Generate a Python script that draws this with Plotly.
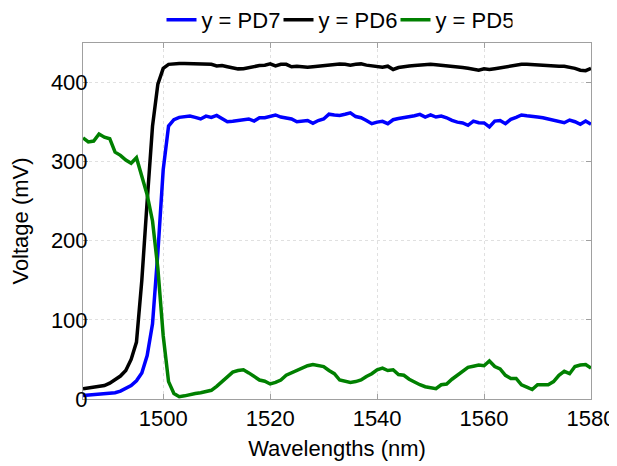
import plotly.graph_objects as go

wavelength = list(range(1485, 1581))

pd7 = [4.5, 5, 5.5, 6, 6.5, 7, 8, 10, 13, 17, 23, 33, 55, 95, 185, 290, 345, 353, 356, 357,
       357.6, 356, 354, 357.6, 356, 358.5, 354, 350.5, 351, 352, 353, 354, 351.3, 355.5, 355.5, 357,
       359, 356.4, 355, 354, 350.5, 351, 352, 348.4, 352, 354, 360, 359, 358.5, 360,
       361.8, 357, 355.5, 352, 348, 350, 351, 348, 353, 354.5, 355.5, 356, 358, 359.8, 356.4, 359,
       356.4, 357.6, 355.5, 352.2, 350, 349, 346, 351.3, 349.2, 349, 344, 351.3, 352, 348,
       353.5, 356, 359, 358, 357.6, 356.4, 355.5, 354, 352, 351.3, 349.2, 352.6, 350.5, 347.2, 351.3, 347.2]

pd6 = [13, 14, 15, 16, 17, 20, 24, 29, 36, 50, 72, 150, 250, 345, 398, 418, 423, 424, 424, 424,
       424, 424, 424, 424, 423, 421, 421.5, 420, 418.5, 417.3, 417.5, 419, 420.7, 421.5, 422, 423.6,
       421, 423, 423, 420, 420.7, 420, 419.4, 420, 420.7, 421, 421.5, 422.5, 423.6, 423,
       422, 423, 423.6, 422, 421, 420.5, 419.4, 420.7, 416.5, 419, 420.5, 421, 421.5, 422, 423, 423,
       422.5, 422, 421.5, 420.7, 420, 419, 418, 416.5, 415.6, 417.3, 416.5, 417.5, 418.5, 420,
       421.5, 422, 423, 423, 422.5, 421.5, 421, 420.5, 420, 420.5, 420.7, 419.4, 418, 415.6, 415, 417.8]

pd5 = [330, 325, 326, 335, 331, 329, 312, 308, 302, 298, 305, 282, 258, 225, 165, 80, 22, 7, 3, 4,
       6, 7, 8, 9, 11, 16, 22, 28, 34, 36, 37, 33, 29, 24, 22.5, 19,
       21, 24, 30, 33, 37, 40, 42, 43.6, 42.5, 41, 36, 32, 24, 22.6,
       21, 22, 24, 28.5, 32, 37, 39, 36, 37, 31, 30, 25, 21, 18, 15.5, 14,
       13, 18, 19, 25, 30, 36, 40, 41.5, 43, 42, 48, 41, 38, 30,
       26, 26, 18, 15, 12, 18, 18, 18, 22, 30, 35, 32, 41, 43, 43.6, 39]

series_names = ["y = PD7", "y = PD6", "y = PD5"]
series_colors = ["#0000ff", "#000000", "#008000"]
x_ticks = [1500, 1520, 1540, 1560, 1580]
y_ticks = [0, 100, 200, 300, 400]

fig = go.Figure()
for name, vals, col in zip(series_names, [pd7, pd6, pd5], series_colors):
    fig.add_trace(go.Scatter(x=wavelength, y=vals, mode="lines", name=name,
                             line=dict(color=col, width=3.5)))

axis_common = dict(
    showline=True, linecolor="#a0a0a0", linewidth=1, mirror="ticks",
    ticks="inside", ticklen=5, tickcolor="#a0a0a0",
    showgrid=True, gridcolor="#e0e0e0", griddash="dot", gridwidth=1,
    zeroline=False, tickfont=dict(size=22, color="black"),
)

fig.update_xaxes(range=[1485, 1580], tickvals=x_ticks,
                 title=dict(text="Wavelengths (nm)", font=dict(size=22, color="black"), standoff=10),
                 ticklabelstandoff=0, **axis_common)
fig.update_yaxes(range=[0, 450], tickvals=y_ticks,
                 title=dict(text="Voltage (mV)", font=dict(size=22, color="black"), standoff=20),
                 ticklabelstandoff=-10, **axis_common)

fig.update_layout(
    width=609, height=458,
    margin=dict(l=75, r=26, t=35, b=67, autoexpand=False),
    paper_bgcolor="white", plot_bgcolor="white",
    font=dict(family="Liberation Sans, Arial, sans-serif", size=22, color="black"),
    legend=dict(orientation="h", x=0.5, xanchor="center", y=1.065, yanchor="middle",
                font=dict(size=22), itemwidth=30, tracegroupgap=0, entrywidth=72,
                bgcolor="rgba(0,0,0,0)"),
    showlegend=True,
)

fig.write_html("out.html")
